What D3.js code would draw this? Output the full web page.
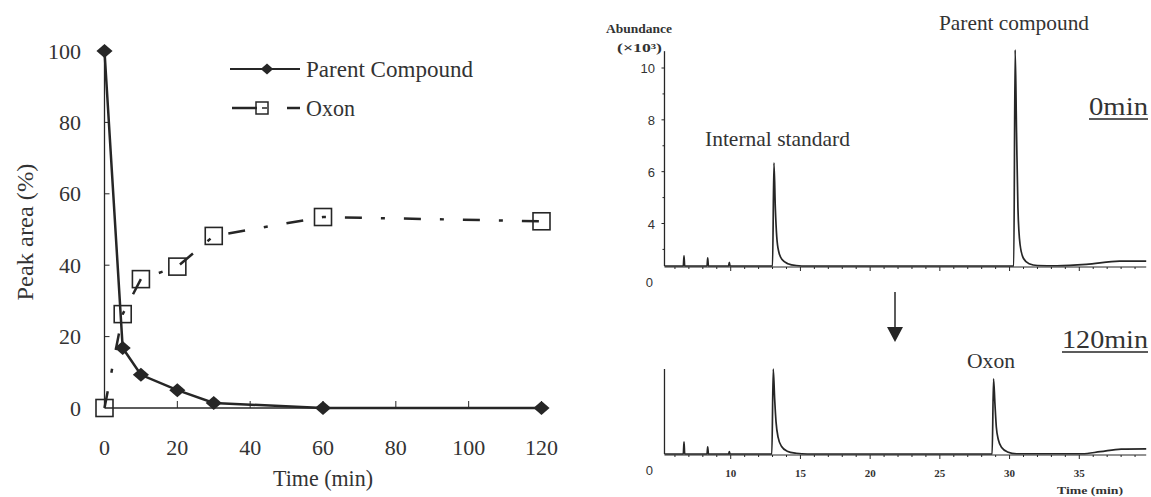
<!DOCTYPE html>
<html><head><meta charset="utf-8">
<script src="https://cdn.jsdelivr.net/npm/d3@7"></script>
<style>body{margin:0;background:#fff}svg{display:block}</style>
</head><body><svg id="c" width="1151" height="497"></svg>
<script>
// ---- Left chart data ----
const timeMin   = [0, 5, 10, 20, 30, 60, 120];
const parentPct = [100, 16.8, 9.3, 5.0, 1.4, 0, 0];
const oxonPct   = [0, 26.3, 36.1, 39.6, 48.2, 53.5, 52.3];
const xTicksLeft = [0, 20, 40, 60, 80, 100, 120];
const yTicksLeft = [0, 20, 40, 60, 80, 100];
const seriesNames = ["Parent Compound", "Oxon"];

// ---- Chromatogram data: [retention time (min), abundance (x10^3)] ----
const trace0 = [
  [5.25,2.36],[6.6,2.36],[6.65,2.75],[6.7,2.36],[8.3,2.36],[8.35,2.67],[8.4,2.36],
  [9.85,2.36],[9.9,2.5],[9.95,2.36],[13.0,2.36],[13.1,6.34],[13.2,4.6],[13.3,3.5],
  [13.45,2.9],[13.7,2.6],[14.1,2.45],[14.7,2.38],[15.5,2.36],[30.3,2.36],[30.4,10.7],
  [30.5,7.5],[30.6,4.6],[30.75,3.2],[31.0,2.65],[31.4,2.45],[32.0,2.38],[33.4,2.37],
  [35.5,2.42],[37.9,2.55],[39.8,2.55]
];
const trace120 = [
  [5.25,2.36],[6.6,2.36],[6.65,2.83],[6.7,2.36],[8.3,2.36],[8.35,2.64],[8.4,2.36],
  [9.85,2.36],[9.9,2.45],[9.95,2.36],[12.95,2.36],[13.05,5.64],[13.15,4.5],[13.25,3.6],
  [13.4,3.0],[13.65,2.65],[14.05,2.47],[14.7,2.39],[15.5,2.36],[28.75,2.36],[28.85,5.26],
  [28.95,4.3],[29.05,3.4],[29.2,2.9],[29.45,2.6],[29.85,2.44],[30.5,2.37],[35.2,2.37],
  [36.5,2.45],[38.0,2.55],[39.8,2.56]
];
const abundTicks = [10, 8, 6, 4];
const abundMinor = [9, 7, 5, 3];
const rtTicks = [10, 15, 20, 25, 30, 35];
const rtMinor = d3.range(6, 40, 1);

const svg = d3.select("#c");
const ink = "#262626";
const serif = "'Liberation Serif','DejaVu Serif',serif";

// ================= LEFT CHART =================
const x = d3.scaleLinear().domain([0,120]).range([104.5,541.5]);
const y = d3.scaleLinear().domain([0,100]).range([408,51]);

const gL = svg.append("g");
gL.append("line").attr("x1",x(0)).attr("x2",x(120)).attr("y1",y(0)).attr("y2",y(0)).attr("stroke",ink).attr("stroke-width",1.3);
gL.append("line").attr("x1",x(0)).attr("x2",x(0)).attr("y1",y(0)).attr("y2",y(100)).attr("stroke",ink).attr("stroke-width",1.3);
gL.selectAll(".xt").data(xTicksLeft.slice(1)).enter().append("line")
  .attr("x1",d=>x(d)).attr("x2",d=>x(d)).attr("y1",y(0)).attr("y2",y(0)-7).attr("stroke",ink).attr("stroke-width",1);
gL.selectAll(".yt").data(yTicksLeft.slice(1,-1)).enter().append("line")
  .attr("x1",x(0)).attr("x2",x(0)+5).attr("y1",d=>y(d)).attr("y2",d=>y(d)).attr("stroke",ink).attr("stroke-width",1);
gL.selectAll(".xl").data(xTicksLeft).enter().append("text")
  .attr("x",d=>x(d)).attr("y",455).attr("text-anchor","middle")
  .attr("font-family",serif).attr("font-size",22).attr("fill","#333").text(d=>d);
gL.selectAll(".yl").data(yTicksLeft).enter().append("text")
  .attr("x",81).attr("y",d=>y(d)+7.5).attr("text-anchor","end")
  .attr("font-family",serif).attr("font-size",22).attr("fill","#333").text(d=>d);
gL.append("text").attr("x",323).attr("y",486).attr("text-anchor","middle")
  .attr("font-family",serif).attr("font-size",23).attr("fill","#333")
  .attr("textLength",100).attr("lengthAdjust","spacingAndGlyphs").text("Time (min)");
gL.append("text").attr("transform","translate(33,232) rotate(-90)").attr("text-anchor","middle")
  .attr("font-family",serif).attr("font-size",23).attr("fill","#333")
  .attr("textLength",137).attr("lengthAdjust","spacingAndGlyphs").text("Peak area (%)");

const ptsP = timeMin.map((t,i)=>[t,parentPct[i]]);
const ptsO = timeMin.map((t,i)=>[t,oxonPct[i]]);
const line = d3.line().x(d=>x(d[0])).y(d=>y(d[1]));

gL.append("path").attr("d",line(ptsO)).attr("fill","none").attr("stroke",ink)
  .attr("stroke-width",2.5).attr("stroke-dasharray","17,19,4,19");
gL.selectAll(".sq").data(ptsO).enter().append("rect")
  .attr("x",d=>x(d[0])-8.5).attr("y",d=>y(d[1])-8.5).attr("width",17).attr("height",17)
  .attr("fill","none").attr("stroke",ink).attr("stroke-width",1.6);
gL.append("path").attr("d",line(ptsP)).attr("fill","none").attr("stroke",ink).attr("stroke-width",2.5);
const diamond = d3.symbol().type(d3.symbolDiamond2).size(125);
gL.selectAll(".dm").data(ptsP).enter().append("path")
  .attr("d",diamond).attr("transform",d=>`translate(${x(d[0])},${y(d[1])}) scale(1.15,1)`)
  .attr("fill",ink);

// legend
const lg = gL.append("g");
lg.append("line").attr("x1",230).attr("x2",300).attr("y1",69).attr("y2",69).attr("stroke",ink).attr("stroke-width",2);
lg.append("path").attr("d",d3.symbol().type(d3.symbolDiamond2).size(75)).attr("transform","translate(267,69) scale(1.15,1)").attr("fill",ink);
lg.append("text").attr("x",306).attr("y",77).attr("font-family",serif).attr("font-size",23).attr("fill","#333")
  .attr("textLength",167).attr("lengthAdjust","spacingAndGlyphs").text(seriesNames[0]);
lg.append("line").attr("x1",232).attr("x2",257).attr("y1",108).attr("y2",108).attr("stroke",ink).attr("stroke-width",2.5);
lg.append("rect").attr("x",256).attr("y",102).attr("width",12).attr("height",12).attr("fill","none").attr("stroke",ink).attr("stroke-width",1.5);
lg.append("line").attr("x1",262).attr("x2",267).attr("y1",108).attr("y2",108).attr("stroke",ink).attr("stroke-width",1.5);
lg.append("line").attr("x1",287).attr("x2",300).attr("y1",108).attr("y2",108).attr("stroke",ink).attr("stroke-width",2.5);
lg.append("text").attr("x",306).attr("y",116).attr("font-family",serif).attr("font-size",23).attr("fill","#333")
  .attr("textLength",49).attr("lengthAdjust","spacingAndGlyphs").text(seriesNames[1]);

// ================= RIGHT CHROMATOGRAMS =================
const xr = d3.scaleLinear().domain([5,40]).range([661,1149]);
const yTop = d3.scaleLinear().domain([4,10]).range([223.5,68]);
const yBot = d3.scaleLinear().domain([2.36,5.64]).range([454,369]);
const sans = "'Liberation Sans',Arial,sans-serif";

function panel(yS, trace, axisTop, showY) {
  const g = svg.append("g");
  const base = yS(2.36);
  g.append("line").attr("x1",xr(5.25)).attr("x2",xr(5.25)).attr("y1",base).attr("y2",yS(axisTop)).attr("stroke",ink).attr("stroke-width",1.3);
  g.append("line").attr("x1",xr(5.25)).attr("x2",xr(39.8)).attr("y1",base+1).attr("y2",base+1).attr("stroke",ink).attr("stroke-width",1);
  g.selectAll(".mt").data(rtMinor).enter().append("line")
    .attr("x1",d=>xr(d)).attr("x2",d=>xr(d)).attr("y1",base+1).attr("y2",d=>base+(d%5===0?5:3))
    .attr("stroke",ink).attr("stroke-width",1);
  if (showY) {
    g.selectAll(".ya").data(abundTicks).enter().append("line")
      .attr("x1",xr(5.25)-3).attr("x2",xr(5.25)).attr("y1",d=>yS(d)).attr("y2",d=>yS(d)).attr("stroke",ink);
    g.selectAll(".ym").data(abundMinor).enter().append("line")
      .attr("x1",xr(5.25)-2).attr("x2",xr(5.25)).attr("y1",d=>yS(d)).attr("y2",d=>yS(d)).attr("stroke",ink);
    g.selectAll(".yl").data(abundTicks).enter().append("text")
      .attr("x",655).attr("y",d=>yS(d)+5).attr("text-anchor","end")
      .attr("font-family",sans).attr("font-size",13).attr("fill","#333").text(d=>d);
  }
  g.append("text").attr("x",653).attr("y",base+21).attr("text-anchor","end")
    .attr("font-family",sans).attr("font-size",13).attr("fill","#333").text("0");
  const ln = d3.line().x(d=>xr(d[0])).y(d=>yS(d[1])).curve(d3.curveMonotoneX);
  g.append("path").attr("d",ln(trace)).attr("fill","none").attr("stroke",ink).attr("stroke-width",1.7);
  return g;
}
panel(yTop, trace0, 10.65, true);
const gb = panel(yBot, trace120, 5.64, false);
gb.selectAll(".rl").data(rtTicks).enter().append("text")
  .attr("x",d=>xr(d)).attr("y",477).attr("text-anchor","middle")
  .attr("font-family",serif).attr("font-weight","bold").attr("font-size",11).attr("fill","#333").text(d=>d);
svg.append("text").attr("x",1090).attr("y",494).attr("text-anchor","middle")
  .attr("font-family",serif).attr("font-weight","bold").attr("font-size",10).attr("fill","#333")
  .attr("textLength",66).attr("lengthAdjust","spacingAndGlyphs").text("Time (min)");

svg.append("text").attr("x",606).attr("y",33).attr("font-family",serif).attr("font-weight","bold")
  .attr("font-size",12).attr("fill","#333").attr("textLength",66).attr("lengthAdjust","spacingAndGlyphs").text("Abundance");
svg.append("text").attr("x",617).attr("y",52).attr("font-family",serif).attr("font-weight","bold")
  .attr("font-size",12).attr("fill","#333").attr("textLength",45).attr("lengthAdjust","spacingAndGlyphs").text("(×10³)");

svg.append("text").attr("x",705).attr("y",146).attr("font-family",serif).attr("font-size",21).attr("fill","#333")
  .attr("textLength",145).attr("lengthAdjust","spacingAndGlyphs").text("Internal standard");
svg.append("text").attr("x",939).attr("y",30).attr("font-family",serif).attr("font-size",21).attr("fill","#333")
  .attr("textLength",150).attr("lengthAdjust","spacingAndGlyphs").text("Parent compound");
svg.append("text").attr("x",967).attr("y",368).attr("font-family",serif).attr("font-size",21).attr("fill","#333")
  .attr("textLength",48).attr("lengthAdjust","spacingAndGlyphs").text("Oxon");
svg.append("text").attr("x",1089).attr("y",115).attr("font-family",serif).attr("font-size",26).attr("fill","#333")
  .attr("textLength",59).attr("lengthAdjust","spacingAndGlyphs").text("0min");
svg.append("line").attr("x1",1089).attr("x2",1148).attr("y1",119).attr("y2",119).attr("stroke",ink).attr("stroke-width",1.3);
svg.append("text").attr("x",1062).attr("y",348).attr("font-family",serif).attr("font-size",26).attr("fill","#333")
  .attr("textLength",86).attr("lengthAdjust","spacingAndGlyphs").text("120min");
svg.append("line").attr("x1",1062).attr("x2",1148).attr("y1",352).attr("y2",352).attr("stroke",ink).attr("stroke-width",1.3);

svg.append("line").attr("x1",895).attr("x2",895).attr("y1",292).attr("y2",330).attr("stroke",ink).attr("stroke-width",1.5);
svg.append("path").attr("d","M887,327 L903,327 L895,342 Z").attr("fill",ink);
</script></body></html>
